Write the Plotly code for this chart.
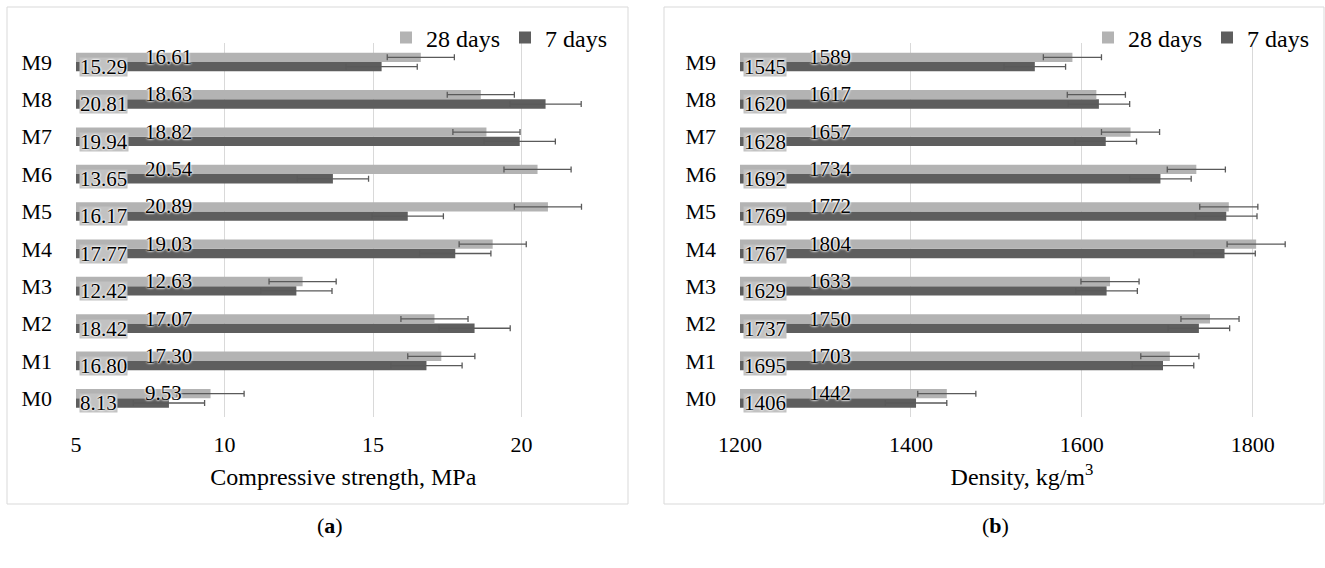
import plotly.graph_objects as go

W, H = 1325, 568

categories = ["M0", "M1", "M2", "M3", "M4", "M5", "M6", "M7", "M8", "M9"]

strength_7d = [8.13, 16.80, 18.42, 12.42, 17.77, 16.17, 13.65, 19.94, 20.81, 15.29]
strength_28d = [9.53, 17.30, 17.07, 12.63, 19.03, 20.89, 20.54, 18.82, 18.63, 16.61]
strength_7d_err = [1.2, 1.2, 1.2, 1.2, 1.2, 1.2, 1.2, 1.2, 1.2, 1.2]
strength_28d_err = [1.13, 1.13, 1.13, 1.13, 1.13, 1.13, 1.13, 1.13, 1.13, 1.13]

density_7d = [1406, 1695, 1737, 1629, 1767, 1769, 1692, 1628, 1620, 1545]
density_28d = [1442, 1703, 1750, 1633, 1804, 1772, 1734, 1657, 1617, 1589]
density_7d_err = [36, 36, 36, 36, 36, 36, 36, 36, 36, 36]
density_28d_err = [34, 34, 34, 34, 34, 34, 34, 34, 34, 34]

strength_ticks = [5, 10, 15, 20]
density_ticks = [1200, 1400, 1600, 1800]

LIGHT = "#b3b3b3"
DARK = "#5e5e5e"
ERR = "#5a5a5a"
GRID = "#d9d9d9"
FONT = "Liberation Serif"

def px_x(p):
    return p / W

def px_y(p):
    return 1 - p / H

fig = go.Figure()

def add_pair(v7, v28, e7, e28, xa, ya, leg):
    fig.add_trace(go.Bar(
        y=categories, x=v7, orientation="h", name="7 days",
        marker=dict(color=DARK, line=dict(width=0)),
        error_x=dict(type="data", array=e7, color=ERR, thickness=1.3, width=3),
        xaxis=xa, yaxis=ya, legend=leg, legendrank=2, hoverinfo="x+y",
    ))
    fig.add_trace(go.Bar(
        y=categories, x=v28, orientation="h", name="28 days",
        marker=dict(color=LIGHT, line=dict(width=0)),
        error_x=dict(type="data", array=e28, color=ERR, thickness=1.3, width=3),
        xaxis=xa, yaxis=ya, legend=leg, legendrank=1, hoverinfo="x+y",
    ))

add_pair(strength_7d, strength_28d, strength_7d_err, strength_28d_err, "x", "y", "legend")
add_pair(density_7d, density_28d, density_7d_err, density_28d_err, "x2", "y2", "legend2")

ydom = [px_y(417), px_y(43)]

axis_common = dict(
    showgrid=True, gridcolor=GRID, gridwidth=1, zeroline=False, showline=False,
    ticks="", tickfont=dict(family=FONT, size=22, color="#000000"),
    ticklabelstandoff=12, automargin=False,
)
yaxis_common = dict(
    showgrid=False, zeroline=False, showline=False, ticks="",
    type="category", categoryorder="array", categoryarray=categories,
    tickfont=dict(family=FONT, size=22, color="#000000"),
    ticklabelstandoff=23, domain=ydom, automargin=False,
)

glow = "0px 0px 2px white, 0px 0px 2px white, 0px 0px 3px white"
annotations = []

def add_labels(v7, v28, xmin, xa, ya, fmt):
    for c, a, b in zip(categories, v7, v28):
        annotations.append(dict(
            x=xmin, y=c, xref=xa, yref=ya, text=fmt.format(a), showarrow=False,
            xanchor="left", yanchor="middle", xshift=3, yshift=-5,
            bgcolor="#c2c2c2", borderpad=0, height=18,
            font=dict(family=FONT, size=21, color="#000000", shadow=glow),
        ))
        annotations.append(dict(
            x=xmin, y=c, xref=xa, yref=ya, text=fmt.format(b), showarrow=False,
            xanchor="left", yanchor="middle", xshift=67, yshift=5,
            font=dict(family=FONT, size=21, color="#000000", shadow=glow),
        ))

add_labels(strength_7d, strength_28d, 5, "x", "y", "{:.2f}")
add_labels(density_7d, density_28d, 1200, "x2", "y2", "{:.0f}")

annotations.append(dict(x=px_x(330), y=px_y(525), xref="paper", yref="paper",
                        xanchor="center", yanchor="middle",
                        text="(<b>a</b>)", showarrow=False,
                        font=dict(family=FONT, size=22, color="#000000")))
annotations.append(dict(x=px_x(995), y=px_y(525), xref="paper", yref="paper",
                        xanchor="center", yanchor="middle",
                        text="(<b>b</b>)", showarrow=False,
                        font=dict(family=FONT, size=22, color="#000000")))

shapes = [
    dict(type="rect", xref="paper", yref="paper", x0=px_x(7), x1=px_x(628),
         y0=px_y(504), y1=px_y(7), line=dict(color=GRID, width=1), layer="below"),
    dict(type="rect", xref="paper", yref="paper", x0=px_x(664), x1=px_x(1324),
         y0=px_y(504), y1=px_y(7), line=dict(color=GRID, width=1), layer="below"),
]

legend_common = dict(
    orientation="h", yanchor="middle", xanchor="right",
    font=dict(family=FONT, size=24, color="#000000"),
    bgcolor="rgba(0,0,0,0)", traceorder="normal",
)

fig.update_layout(
    width=W, height=H, autosize=False,
    margin=dict(l=0, r=0, t=0, b=0, autoexpand=False),
    paper_bgcolor="white", plot_bgcolor="white",
    barmode="group", bargap=0.5, bargroupgap=0,
    xaxis=dict(axis_common, domain=[px_x(76), px_x(610.6)], range=[5, 23],
               tickvals=strength_ticks, anchor="y",
               title=dict(text="Compressive strength, MPa", standoff=12,
                          font=dict(family=FONT, size=24, color="#000000"))),
    yaxis=dict(yaxis_common, anchor="x"),
    xaxis2=dict(axis_common, domain=[px_x(740), px_x(1304)], range=[1200, 1860],
                tickvals=density_ticks, anchor="y2",
                title=dict(text="Density, kg/m<sup>3</sup>", standoff=12,
                           font=dict(family=FONT, size=24, color="#000000"))),
    yaxis2=dict(yaxis_common, anchor="x2"),
    legend=dict(legend_common, x=px_x(612), y=px_y(38)),
    legend2=dict(legend_common, x=px_x(1314), y=px_y(38)),
    annotations=annotations,
    shapes=shapes,
    showlegend=True,
)

fig.write_html("out.html")
